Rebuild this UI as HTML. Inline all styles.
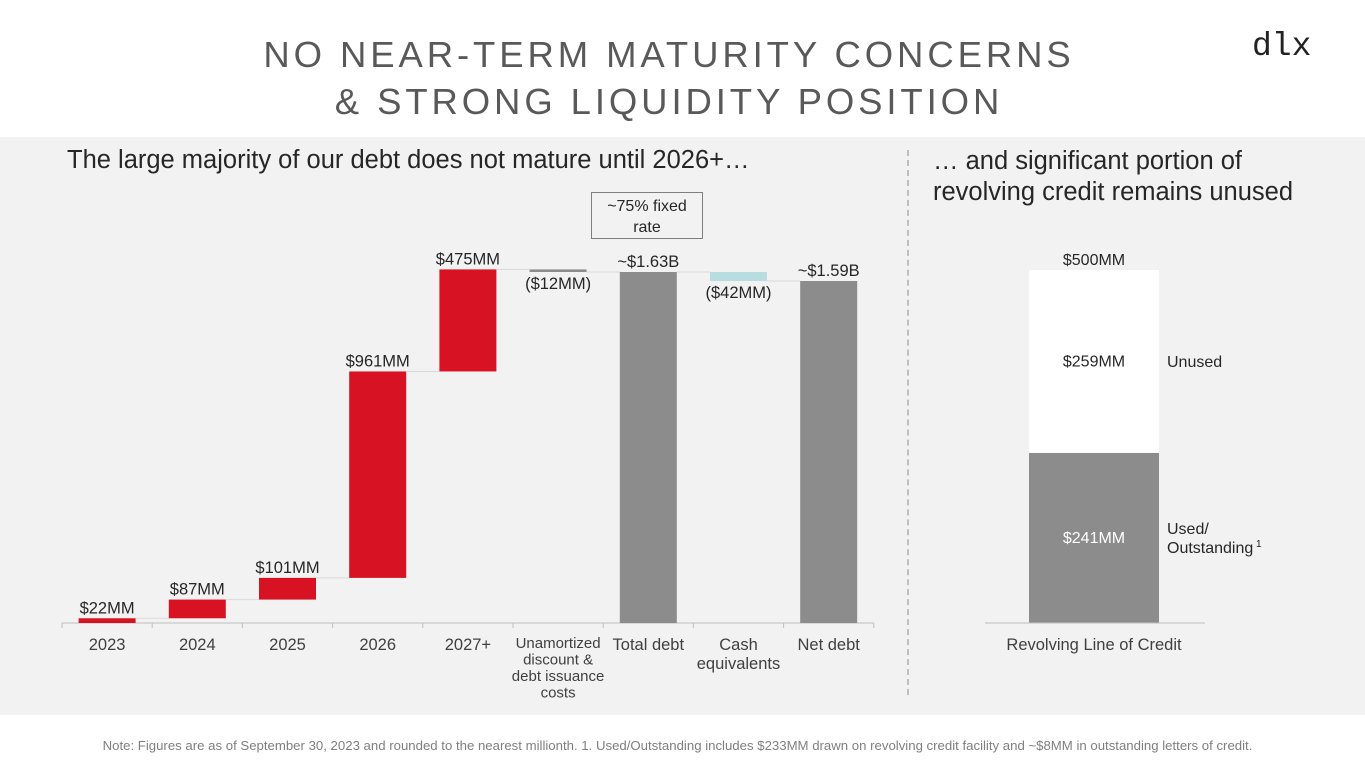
<!DOCTYPE html>
<html><head><meta charset="utf-8"><style>
body{margin:0;width:1365px;height:768px;background:#fff;font-family:"Liberation Sans",sans-serif;position:relative;overflow:hidden}
.t{position:absolute;white-space:nowrap}
</style></head><body>
<div class="t" style="left:0;width:1338px;top:31px;text-align:center;font-size:36.5px;letter-spacing:3.9px;color:#595959;line-height:47px">NO NEAR-TERM MATURITY CONCERNS<br>&amp; STRONG LIQUIDITY POSITION</div>
<div class="t" style="left:1252px;top:28px;font-family:'Liberation Mono',monospace;font-size:33px;color:#222">dlx</div>
<div style="position:absolute;left:0;top:137px;width:1365px;height:578px;background:#f2f2f2"></div>
<div class="t" style="left:67px;top:146px;font-size:25.5px;color:#262626">The large majority of our debt does not mature until 2026+…</div>
<div class="t" style="left:933px;top:146px;font-size:25.5px;color:#262626;line-height:31px">… and significant portion of<br>revolving credit remains unused</div>
<div style="position:absolute;left:907px;top:150px;height:545px;border-left:2px dashed #bfbfbf"></div>
<div class="t" style="left:591px;top:192px;width:112px;height:47px;border:1px solid #7f7f7f;background:#f2f2f2;text-align:center;font-size:16px;line-height:21px;padding-top:3px;box-sizing:border-box;color:#262626">~75% fixed<br>rate</div>
<svg id="c" width="1365" height="768" style="position:absolute;left:0;top:0" font-family="Liberation Sans, sans-serif"></svg>
<div class="t" style="left:0;width:1355px;text-align:center;top:738px;font-size:13.2px;color:#7f7f7f">Note: Figures are as of September 30, 2023 and rounded to the nearest millionth. 1. Used/Outstanding includes $233MM drawn on revolving credit facility and ~$8MM in outstanding letters of credit.</div>
<script>
const categories=["2023","2024","2025","2026","2027+","Unamortized\ndiscount &\ndebt issuance\ncosts","Total debt","Cash\nequivalents","Net debt"];
const values=[22,87,101,961,475,-12,1634,-42,1592];
const kinds=["inc","inc","inc","inc","inc","dec","total","dec","total"];
const labels=["$22MM","$87MM","$101MM","$961MM","$475MM","($12MM)","~$1.63B","($42MM)","~$1.59B"];
const revUsed=241, revUnused=259, revTotal=500;
const revLabels=["$241MM","$259MM","$500MM"];
const svg=document.getElementById('c');const NS='http://www.w3.org/2000/svg';
function mk(t,a,txt){const e=document.createElementNS(NS,t);for(const k in a)e.setAttribute(k,a[k]);if(txt!=null)e.textContent=txt;svg.appendChild(e);return e;}
const base=623, sc=351/1634;
const y=v=>base-v*sc;
const x0=62,step=90.2,bw=57;
const cx=i=>x0+step*(i+0.5);
let a=mk('line',{x1:x0,x2:x0+step*9,y1:base,y2:base,stroke:'#bfbfbf'});


for(let i=0;i<=9;i++){const t=mk('line',{x1:x0+step*i,x2:x0+step*i,y1:base,y2:base+5,stroke:'#bfbfbf'});}
let cum=0;
values.forEach((v,i)=>{
 let lo,hi;
 if(kinds[i]==='total'){lo=0;hi=v;cum=v;}
 else{const s=cum;cum+=v;lo=Math.min(s,cum);hi=Math.max(s,cum);}
 const col=kinds[i]==='inc'?'#d71222':kinds[i]==='total'?'#8c8c8c':(i===5?'#8c8c8c':'#b7dde0');
 const r=mk('rect',{x:cx(i)-bw/2,y:y(hi),width:bw,height:Math.max(y(lo)-y(hi),2),fill:col});
 
 
 if(i<8){const c=mk('line',{x1:cx(i)+bw/2,x2:cx(i+1)-bw/2,y1:y(cum),y2:y(cum),stroke:'#d9d9d9'});}
 const ly=v<0?y(lo)+17:y(hi)-5;
 const l=mk('text',{x:cx(i),y:ly,'text-anchor':'middle','font-size':16.5,fill:'#262626'},labels[i]);
 
 
 categories[i].split('\n').forEach((s,j)=>{const t=mk('text',{x:cx(i),y:650+j*(i===5?16.5:19)-(i===5?2:0),'text-anchor':'middle','font-size':i===5?15:16.5,fill:'#404040'},s);});
});
const rs=353/revTotal, rx=1029, rw=130;
const ry=v=>base-v*rs;
let b=mk('rect',{x:rx,y:ry(revUsed),width:rw,height:revUsed*rs,fill:'#8c8c8c'});


b=mk('rect',{x:rx,y:ry(revTotal),width:rw,height:revUnused*rs,fill:'#fff'});


a=mk('line',{x1:985,x2:1205,y1:base,y2:base,stroke:'#bfbfbf'});


const tx=[[revLabels[0],ry(revUsed/2)+5,'#fff'],[revLabels[1],ry(revUsed+revUnused/2)+5,'#262626'],[revLabels[2],ry(revTotal)-5,'#262626']];
tx.forEach(t=>{const e=mk('text',{x:rx+rw/2,y:t[1],'text-anchor':'middle','font-size':16,fill:t[2]},t[0]);});
let e=mk('text',{x:1094,y:650,'text-anchor':'middle','font-size':16.5,fill:'#404040'},'Revolving Line of Credit');


e=mk('text',{x:1167,y:367,'font-size':16,fill:'#262626'},'Unused');


e=mk('text',{x:1167,y:534,'font-size':16,fill:'#262626'},'Used/');


e=mk('text',{x:1167,y:553,'font-size':16,fill:'#262626'},'Outstanding');


e=mk('text',{x:1256,y:547,'font-size':10,fill:'#262626'},'1');


</script>
</body></html>
